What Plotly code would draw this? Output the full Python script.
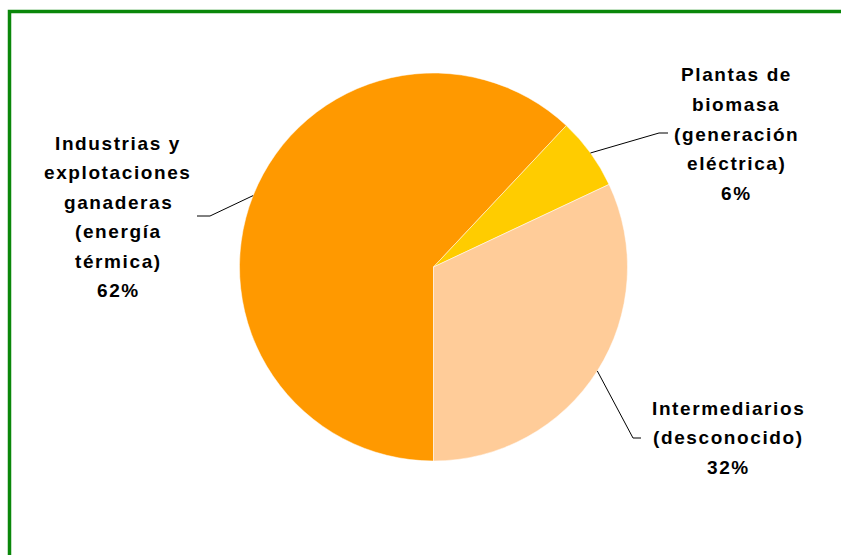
import math
import plotly.graph_objects as go

# ---- data ----
categories = ["Industrias y explotaciones ganaderas (energía térmica)",
              "Plantas de biomasa (generación eléctrica)",
              "Intermediarios (desconocido)"]
values = [62, 6, 32]
colors = ["#FF9900", "#FFCC00", "#FFCC99"]
label_lines = [
    ["Industrias y", "explotaciones", "ganaderas", "(energía", "térmica)"],
    ["Plantas de", "biomasa", "(generación", "eléctrica)"],
    ["Intermediarios", "(desconocido)"],
]

# ---- layout constants (pixels, window coordinates) ----
W, H = 841, 555
CX, CY, R = 433.5, 267.0, 194.0
ROTATION = 180
LINE_SPACING = 29.5
FONT = dict(family="Liberation Sans, Arial, sans-serif", size=19, color="#000000", weight="bold")
label_pos = [
    dict(x=118, y=143, elbow=(210, 216), stub=(197, 216)),
    dict(x=736, y=75, elbow=(659, 133), stub=(668, 133)),
    dict(x=728, y=408, elbow=(633, 438), stub=(641, 438)),
]

def px(x):
    return x / W

def py(y):
    return 1 - y / H

fig = go.Figure()
fig.add_trace(go.Pie(
    labels=categories, values=values, sort=False, direction="clockwise",
    rotation=ROTATION, textinfo="none", hoverinfo="label+percent",
    marker=dict(colors=colors, line=dict(color="#FFFFFF", width=0.5)),
    showlegend=False,
    domain=dict(x=[px(CX - R), px(CX + R)], y=[py(CY + R), py(CY - R)]),
))

total = sum(values)
shapes = []
annotations = []
cum = 0
for i, v in enumerate(values):
    mid = ROTATION + (cum + v / 2) / total * 360
    cum += v
    a = math.radians(mid)
    ex, ey = CX + R * math.sin(a), CY - R * math.cos(a)
    lp = label_pos[i]
    (bx, by), (sx, sy) = lp["elbow"], lp["stub"]
    shapes.append(dict(type="path", xref="paper", yref="paper",
                       path=f"M {px(ex)},{py(ey)} L {px(bx)},{py(by)} L {px(sx)},{py(sy)}",
                       line=dict(color="#000000", width=1)))
    pct = f"{round(v / total * 100)}%"
    lines = label_lines[i] + [pct]
    for j, t in enumerate(lines):
        annotations.append(dict(
            text=f'<span style="letter-spacing:1.6px">{t}</span>',
            x=px(lp["x"]), y=py(lp["y"] + j * LINE_SPACING),
            xref="paper", yref="paper", xanchor="center", yanchor="middle",
            showarrow=False, font=FONT))

# green frame (only top and left edges are inside the picture)
frame = dict(color="#0A870A", width=3.5)
shapes.append(dict(type="path", xref="paper", yref="paper",
                   path=f"M {px(9.5)},{py(H + 5)} L {px(9.5)},{py(11.5)} L {px(W + 5)},{py(11.5)}",
                   line=frame))

fig.update_layout(width=W, height=H, margin=dict(l=0, r=0, t=0, b=0),
                  paper_bgcolor="#FFFFFF", plot_bgcolor="#FFFFFF",
                  shapes=shapes, annotations=annotations)
fig.write_html("out.html", config={"displayModeBar": False},
               post_script="document.body.style.margin='0';document.body.style.overflow='hidden';")
